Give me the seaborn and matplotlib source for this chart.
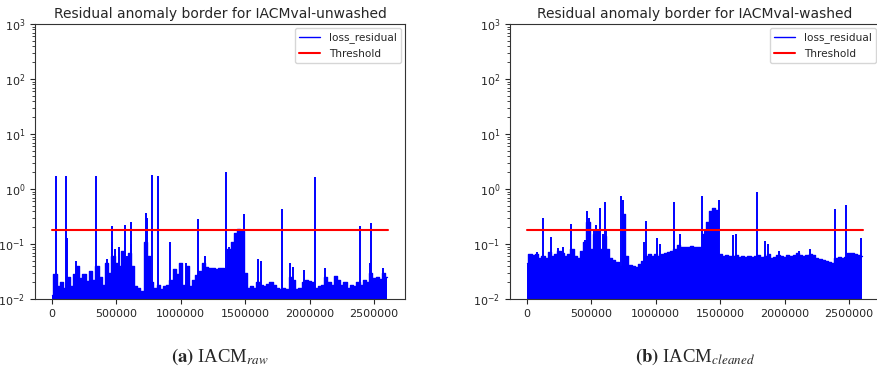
import numpy as np
import pandas as pd
import matplotlib
matplotlib.use("Agg")
import matplotlib.pyplot as plt
import seaborn as sns

# ---------------- data ----------------
titles = ["Residual anomaly border for IACMval-unwashed",
          "Residual anomaly border for IACMval-washed"]
captions = [r"$\mathbf{(a)}$ IACM$_{raw}$", r"$\mathbf{(b)}$ IACM$_{cleaned}$"]
threshold = 0.177
x_end = 2.61e6

# sample grid of the background envelope (every 25 000 samples)
grid_x = np.arange(0, 2.6001, 0.025) * 1e6

raw_envelope = [
    0.012, 0.028, 0.017, 0.020, 0.016, 0.025, 0.017, 0.029, 0.040, 0.024,
    0.029, 0.021, 0.032, 0.022, 0.040, 0.025, 0.018, 0.045, 0.030, 0.060,
    0.045, 0.040, 0.075, 0.055, 0.070, 0.040, 0.017, 0.016, 0.014, 0.110,
    0.060, 0.020, 0.016, 0.018, 0.015, 0.017, 0.018, 0.022, 0.035, 0.028,
    0.045, 0.018, 0.040, 0.017, 0.022, 0.027, 0.032, 0.045, 0.038, 0.036,
    0.036, 0.035, 0.036, 0.037, 0.035, 0.080, 0.110, 0.160, 0.190, 0.170,
    0.030, 0.016, 0.017, 0.016, 0.020, 0.018, 0.017, 0.019, 0.020, 0.018,
    0.016, 0.015, 0.016, 0.015, 0.025, 0.022, 0.015, 0.016, 0.020, 0.022,
    0.021, 0.020, 0.016, 0.017, 0.018, 0.025, 0.020, 0.018, 0.026, 0.022,
    0.018, 0.020, 0.016, 0.018, 0.017, 0.020, 0.018, 0.022, 0.020, 0.030,
    0.024, 0.025, 0.023, 0.030, 0.025,
]
raw_spike_x = [0.033, 0.111, 0.118, 0.19, 0.344, 0.43, 0.465, 0.47, 0.49, 0.52,
               0.568, 0.58, 0.612, 0.618, 0.731, 0.74, 0.778, 0.822, 0.918, 1.04,
               1.134, 1.186, 1.354, 1.376, 1.49, 1.597, 1.625, 1.788, 1.85, 1.875,
               1.96, 2.044, 2.116, 2.39, 2.47, 2.478, 2.57]
raw_spike_v = [1.7, 1.75, 0.126, 0.049, 1.75, 0.053, 0.21, 0.11, 0.08, 0.09,
               0.22, 0.06, 0.25, 0.1, 0.36, 0.3, 1.8, 1.75, 0.11, 0.045,
               0.28, 0.06, 2.0, 0.089, 0.35, 0.053, 0.05, 0.43, 0.045, 0.038,
               0.033, 1.65, 0.037, 0.21, 0.046, 0.24, 0.037]

clean_envelope = [
    0.045, 0.065, 0.062, 0.065, 0.055, 0.060, 0.055, 0.072, 0.060, 0.065,
    0.075, 0.070, 0.060, 0.065, 0.080, 0.060, 0.055, 0.075, 0.110, 0.250,
    0.080, 0.150, 0.180, 0.080, 0.140, 0.080, 0.055, 0.052, 0.048, 0.040,
    0.350, 0.060, 0.042, 0.040, 0.038, 0.043, 0.050, 0.060, 0.065, 0.060,
    0.065, 0.060, 0.065, 0.070, 0.072, 0.075, 0.080, 0.095, 0.090, 0.090,
    0.088, 0.092, 0.090, 0.088, 0.090, 0.150, 0.250, 0.400, 0.450, 0.420,
    0.065, 0.060, 0.062, 0.060, 0.060, 0.062, 0.058, 0.060, 0.058, 0.060,
    0.058, 0.060, 0.062, 0.058, 0.060, 0.065, 0.055, 0.058, 0.062, 0.060,
    0.058, 0.062, 0.060, 0.063, 0.070, 0.062, 0.060, 0.062, 0.065, 0.062,
    0.055, 0.053, 0.052, 0.050, 0.048, 0.046, 0.055, 0.057, 0.055, 0.058,
    0.070, 0.068, 0.065, 0.062, 0.060,
]
clean_spike_x = [0.08, 0.124, 0.19, 0.24, 0.28, 0.343, 0.45, 0.465, 0.48, 0.52,
                 0.54, 0.566, 0.59, 0.61, 0.615, 0.733, 0.745, 0.909, 0.922, 1.008,
                 1.036, 1.14, 1.19, 1.357, 1.38, 1.49, 1.6, 1.625, 1.788, 1.847,
                 1.87, 1.96, 2.11, 2.2, 2.395, 2.48, 2.594]
clean_spike_v = [0.073, 0.296, 0.135, 0.083, 0.09, 0.23, 0.12, 0.39, 0.3, 0.18,
                 0.22, 0.46, 0.15, 0.59, 0.18, 0.76, 0.62, 0.11, 0.26, 0.13,
                 0.1, 0.59, 0.15, 0.75, 0.19, 0.64, 0.145, 0.15, 0.9, 0.114,
                 0.1, 0.075, 0.075, 0.082, 0.44, 0.52, 0.126]

panels = [
    (raw_envelope, raw_spike_x, raw_spike_v),
    (clean_envelope, clean_spike_x, clean_spike_v),
]

# ---------------- figure ----------------
sns.set_theme(style="ticks")
plt.rcParams["font.family"] = ["DejaVu Sans"]
plt.rcParams["mathtext.fontset"] = "dejavusans"

fig = plt.figure(figsize=(8.77, 3.73), dpi=100)
positions = [[0.0399, 0.1984, 0.4219, 0.7373],
             [0.5815, 0.1984, 0.4219, 0.7373]]

for i, (env, sx, sv) in enumerate(panels):
    ax = fig.add_axes(positions[i])
    ax.set_yscale("log")
    df = pd.DataFrame({"x": grid_x, "y": env})
    ax.fill_between(df["x"], df["y"], 1e-3, color="blue", linewidth=0, step="mid")
    sns.lineplot(data=df, x="x", y="y", ax=ax, color="blue", linewidth=1.0,
                 drawstyle="steps-mid", label="loss_residual")
    ax.vlines(np.array(sx) * 1e6, 1e-3, sv, color="blue", linewidth=1.4)
    sns.lineplot(x=[0, x_end], y=[threshold, threshold], ax=ax, color="red",
                 linewidth=1.5, label="Threshold")
    ax.set_ylim(1e-2, 1e3)
    ax.set_xlim(-0.1305e6, x_end * 1.05)
    ax.set_xticks([0, 500000, 1000000, 1500000, 2000000, 2500000])
    ax.ticklabel_format(style="plain", axis="x", useOffset=False)
    ax.set_xlabel("")
    ax.set_ylabel("")
    ax.tick_params(axis="both", labelsize=8, direction="out", length=3.5, width=0.8)
    ax.tick_params(axis="y", which="minor", length=2, width=0.6)
    for s in ax.spines.values():
        s.set_visible(True)
        s.set_linewidth(0.8)
        s.set_color("#333333")
    ax.set_title(titles[i], fontsize=10, pad=4)
    leg = ax.legend(loc="upper right", fontsize=7.6, frameon=True, fancybox=True,
                    borderaxespad=0.4)
    leg.get_frame().set_edgecolor("#cccccc")

plt.rcParams["mathtext.fontset"] = "stix"
for i, cx in enumerate([0.251, 0.793]):
    fig.text(cx, 0.043, captions[i], ha="center", va="center", fontsize=13.5,
             family=["Liberation Serif", "DejaVu Serif"])

fig.savefig("out.png", dpi=100)
